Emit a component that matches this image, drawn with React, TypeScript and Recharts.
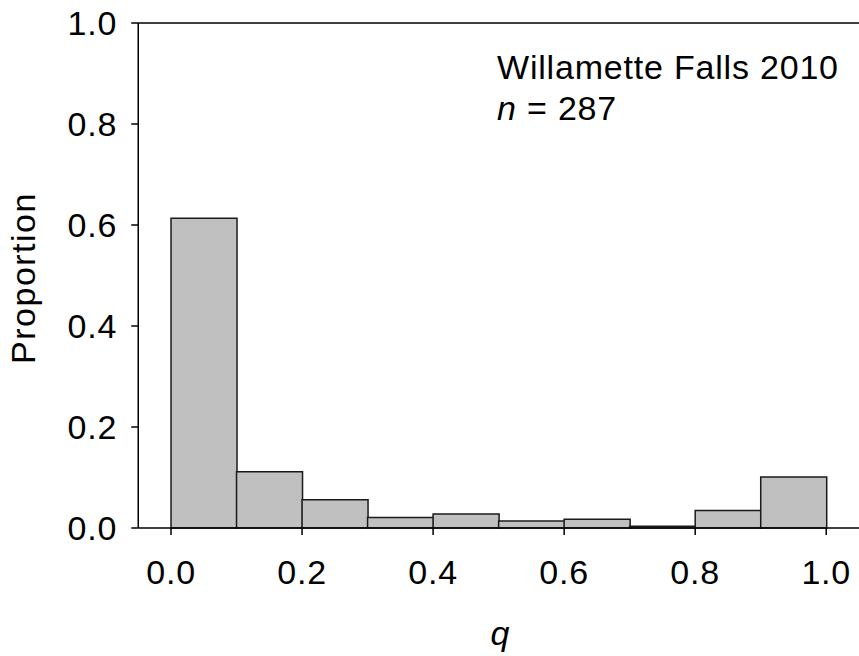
import React from "react";
import {
  ComposedChart,
  Bar,
  XAxis,
  YAxis,
  ReferenceLine,
  Customized,
} from "recharts";

// bin centres of q (width 0.1) and proportion of fish in each bin
const binCenters = [0.05, 0.15, 0.25, 0.35, 0.45, 0.55, 0.65, 0.75, 0.85, 0.95];
const proportions = [0.6132, 0.1115, 0.0557, 0.0209, 0.0279, 0.0139, 0.0174, 0.0035, 0.0348, 0.101];
const xTicks = [0, 0.2, 0.4, 0.6, 0.8, 1.0];
const yTicks = [0, 0.2, 0.4, 0.6, 0.8, 1.0];
const titleLines = ["Willamette Falls 2010", "287"];

const data = binCenters.map((q, i) => ({ q, p: proportions[i] }));

const FONT = "'Liberation Sans', Arial, sans-serif";
const fontSize = 34;
const spacing = 0.8;

const tickStyle = { fill: "#000", fontSize, fontFamily: FONT, letterSpacing: spacing };

const Annotation = () => (
  <g fontFamily={FONT} fontSize={fontSize} fill="#000" letterSpacing={spacing}>
    <text x={497} y={79}>{titleLines[0]}</text>
    <text x={497} y={120}>
      <tspan fontStyle="italic">n</tspan> = {titleLines[1]}
    </text>
  </g>
);

const YLabel = () => (
  <text
    x={35}
    y={278}
    transform="rotate(-90 35 278)"
    textAnchor="middle"
    fontFamily={FONT}
    fontSize={fontSize}
    letterSpacing={1.5}
    fill="#000"
  >
    Proportion
  </text>
);

const XLabel = () => (
  <text
    x={500}
    y={645}
    textAnchor="middle"
    fontFamily={FONT}
    fontSize={fontSize}
    fontStyle="italic"
    fill="#000"
  >
    q
  </text>
);

export default function App() {
  return (
    <div style={{ position: "absolute", left: 0, top: 0, background: "#fff" }}>
      <ComposedChart
        width={859}
        height={656}
        data={data}
        margin={{ top: 23, right: 0, left: 0, bottom: 0 }}
        barCategoryGap={0}
        barGap={0}
      >
        <XAxis
          dataKey="q"
          type="number"
          domain={[-0.05, 1.05]}
          ticks={xTicks}
          tickFormatter={(v: number) => v.toFixed(1)}
          height={128}
          tick={tickStyle}
          tickSize={7}
          tickMargin={25}
          axisLine={{ stroke: "#000", strokeWidth: 1.5 }}
          tickLine={{ stroke: "#000", strokeWidth: 1.5 }}
          allowDataOverflow
        />
        <YAxis
          type="number"
          domain={[0, 1]}
          ticks={yTicks}
          tickFormatter={(v: number) => v.toFixed(1)}
          width={138.25}
          tick={tickStyle}
          tickSize={7}
          tickMargin={14}
          axisLine={{ stroke: "#000", strokeWidth: 1.5 }}
          tickLine={{ stroke: "#000", strokeWidth: 1.5 }}
        />
        <ReferenceLine y={1} stroke="#000" strokeWidth={1.5} />
        <Bar
          dataKey="p"
          fill="#c0c0c0"
          stroke="#1a1a1a"
          strokeWidth={1.5}
          isAnimationActive={false}
        />
        <Customized component={Annotation} />
        <Customized component={YLabel} />
        <Customized component={XLabel} />
      </ComposedChart>
    </div>
  );
}
